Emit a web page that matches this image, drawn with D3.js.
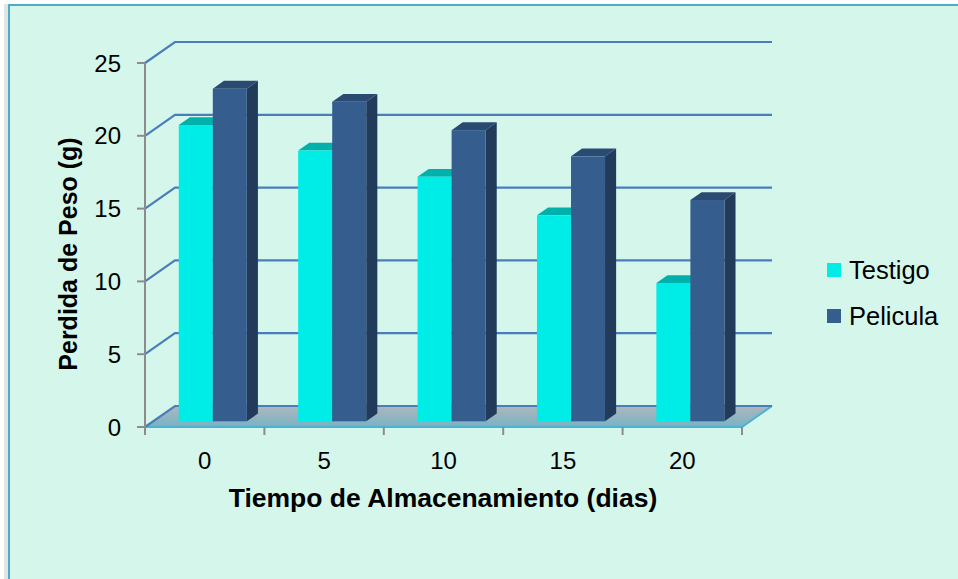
<!DOCTYPE html>
<html>
<head>
<meta charset="utf-8">
<script src="https://cdn.jsdelivr.net/npm/d3@7"></script>
<style>
  html, body { margin: 0; padding: 0; background: #ffffff; }
  svg { display: block; font-family: "Liberation Sans", Arial, sans-serif; }
</style>
</head>
<body>
<svg id="chart" width="958" height="579"></svg>
<script>
// Storage time (days) and weight loss (g) for each treatment
const categories = ["0", "5", "10", "15", "20"];
const seriesNames = ["Testigo", "Pelicula"];
const testigo = [20.35, 18.6, 16.8, 14.15, 9.5];
const pelicula = [22.85, 21.95, 20.0, 18.2, 15.2];
const yTicks = [0, 5, 10, 15, 20, 25];

const series = [
  { name: seriesNames[0], values: testigo, front: "#00ece6", top: "#00b1ab", side: "#00b1ab" },
  { name: seriesNames[1], values: pelicula, front: "#355e8e", top: "#2a4a72", side: "#223b5b" }
];

const svg = d3.select("#chart");

// Outer chart frame
svg.append("rect").attr("x", 4).attr("y", 4).attr("width", 6).attr("height", 600)
  .attr("fill", "#e4e4e4");
svg.append("rect")
  .attr("x", 9).attr("y", 5).attr("width", 970).attr("height", 600)
  .attr("fill", "#d5f7eb").attr("stroke", "#4aacc6").attr("stroke-width", 2);

// Oblique projection: front plane plus a depth vector towards the back wall
const front = { left: 145, right: 742, bottom: 427, top: 63 };
const depth = { dx: 30, dy: -21 };

const y = d3.scaleLinear().domain([0, 25]).range([front.bottom, front.top]);
const x = d3.scaleBand().domain(categories)
  .range([front.left, front.right])
  .paddingInner(0.43).paddingOuter(0.215);
const xAxisBand = d3.scaleBand().domain(categories).range([front.left, front.right]);
const sub = d3.scaleBand().domain(seriesNames).range([0, x.bandwidth()]);

// Depth fractions for the columns
const barFront = 0.27, barBack = 0.64;

// Floor
const defs = svg.append("defs");
const grad = defs.append("linearGradient").attr("id", "floorGrad")
  .attr("x1", 0).attr("y1", 0).attr("x2", 0).attr("y2", 1);
grad.append("stop").attr("offset", "0%").attr("stop-color", "#aeb7bc");
grad.append("stop").attr("offset", "100%").attr("stop-color", "#78b2c6");

const y0 = y(0);
svg.append("path")
  .attr("d", d3.line()([
    [front.left, y0], [front.right, y0],
    [front.right + depth.dx, y0 + depth.dy], [front.left + depth.dx, y0 + depth.dy]
  ]) + "Z")
  .attr("fill", "url(#floorGrad)");
svg.append("path")
  .attr("d", d3.line()([
    [front.left, y0], [front.right, y0], [front.right + depth.dx, y0 + depth.dy]
  ]))
  .attr("fill", "none").attr("stroke", "#4bb2cf").attr("stroke-width", 2);

// Gridlines: side-wall diagonal then along the back wall
const grid = svg.append("g");
yTicks.forEach(t => {
  const yy = y(t);
  grid.append("path")
    .attr("d", d3.line()([
      [front.left, yy], [front.left + depth.dx, yy + depth.dy],
      [front.right + depth.dx, yy + depth.dy]
    ]))
    .attr("fill", "none").attr("stroke", "#4a7ebb").attr("stroke-width", 2.2);
});

// Columns (left to right, each cluster drawn back-face first)
const bars = svg.append("g");
categories.forEach((c, i) => {
  series.forEach(s => {
    const v = s.values[i];
    const fx = depth.dx * barFront;
    const fy = depth.dy * barFront;
    const bx = depth.dx * (barBack - barFront);
    const by = depth.dy * (barBack - barFront);
    const x0 = x(c) + sub(s.name) + fx;
    const x1 = x0 + sub.bandwidth();
    const yb = y(0) + fy;
    const yt = y(v) + fy;
    // top face
    bars.append("path")
      .attr("d", d3.line()([[x0, yt], [x1, yt], [x1 + bx, yt + by], [x0 + bx, yt + by]]) + "Z")
      .attr("fill", s.top);
    // right side face
    bars.append("path")
      .attr("d", d3.line()([[x1, yt], [x1 + bx, yt + by], [x1 + bx, yb + by], [x1, yb]]) + "Z")
      .attr("fill", s.side);
    // front face
    bars.append("rect")
      .attr("x", x0).attr("y", yt).attr("width", x1 - x0).attr("height", yb - yt)
      .attr("fill", s.front);
  });
});

// Value axis on the front-left edge
const axisColor = "#8c8c8c";
svg.append("line")
  .attr("x1", front.left).attr("x2", front.left)
  .attr("y1", y(25)).attr("y2", y(0) + 6)
  .attr("stroke", axisColor).attr("stroke-width", 2);
const yAxisG = svg.append("g");
yTicks.forEach(t => {
  yAxisG.append("line")
    .attr("x1", front.left - 8).attr("x2", front.left)
    .attr("y1", y(t)).attr("y2", y(t))
    .attr("stroke", axisColor).attr("stroke-width", 2);
  yAxisG.append("text")
    .attr("x", 121).attr("y", y(t)).attr("dy", "0.36em")
    .attr("text-anchor", "end").attr("font-size", 24).attr("fill", "#000")
    .text(t);
});

// Category axis ticks and labels
const xAxisG = svg.append("g");
const tickXs = categories.map(c => xAxisBand(c)).concat([front.right]);
tickXs.forEach(tx => {
  xAxisG.append("line")
    .attr("x1", tx).attr("x2", tx).attr("y1", y(0)).attr("y2", y(0) + 8)
    .attr("stroke", axisColor).attr("stroke-width", 2);
});
categories.forEach(c => {
  xAxisG.append("text")
    .attr("x", xAxisBand(c) + xAxisBand.bandwidth() / 2).attr("y", 469)
    .attr("text-anchor", "middle").attr("font-size", 24).attr("fill", "#000")
    .text(c);
});

// Axis titles
svg.append("text")
  .attr("x", 443).attr("y", 507)
  .attr("text-anchor", "middle").attr("font-size", 26.5).attr("font-weight", "bold")
  .text("Tiempo de Almacenamiento (dias)");
svg.append("text")
  .attr("transform", "translate(77,254) rotate(-90)")
  .attr("text-anchor", "middle").attr("font-size", 25).attr("font-weight", "bold")
  .text("Perdida de Peso (g)");

// Legend
const legend = svg.append("g");
series.forEach((s, i) => {
  const cy = 270 + i * 46;
  legend.append("rect")
    .attr("x", 827).attr("y", cy - 7).attr("width", 14).attr("height", 14)
    .attr("fill", s.front);
  legend.append("text")
    .attr("x", 849).attr("y", cy).attr("dy", "0.36em")
    .attr("font-size", 25.5).attr("fill", "#000")
    .text(s.name);
});
</script>
</body>
</html>
